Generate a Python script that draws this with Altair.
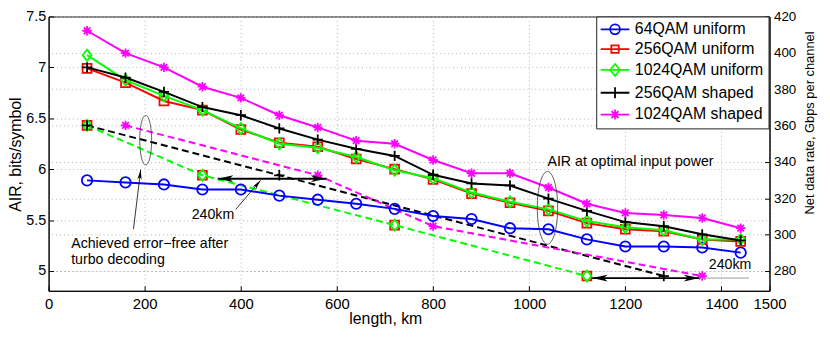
import altair as alt
import pandas as pd

# ---------------- data ----------------
length_km = [80, 160, 240, 320, 400, 480, 560, 640, 720, 800, 880, 960, 1040, 1120, 1200, 1280, 1360, 1440]
air_64qam_uniform = [5.89, 5.87, 5.85, 5.80, 5.80, 5.74, 5.70, 5.66, 5.61, 5.54, 5.51, 5.42, 5.41, 5.31, 5.24, 5.24, 5.23, 5.18]
air_256qam_uniform = [6.99, 6.85, 6.67, 6.58, 6.39, 6.26, 6.22, 6.10, 6.00, 5.90, 5.76, 5.67, 5.59, 5.47, 5.41, 5.39, 5.31, 5.29]
air_1024qam_uniform = [7.12, 6.875, 6.72, 6.58, 6.40, 6.25, 6.21, 6.12, 5.99, 5.91, 5.77, 5.68, 5.605, 5.49, 5.43, 5.40, 5.31, 5.31]
air_256qam_shaped = [7.00, 6.90, 6.76, 6.61, 6.53, 6.40, 6.29, 6.20, 6.13, 5.945, 5.86, 5.84, 5.71, 5.59, 5.48, 5.44, 5.36, 5.30]
air_1024qam_shaped = [7.36, 7.14, 7.00, 6.81, 6.70, 6.53, 6.41, 6.28, 6.25, 6.09, 5.96, 5.96, 5.82, 5.66, 5.57, 5.55, 5.52, 5.42]

# error-free after turbo decoding (dashed)
ef_uniform_km = [80, 320, 720, 1120]
ef_uniform_air = [6.43, 5.94, 5.45, 4.95]
ef_256s_km = [80, 480, 1280]
ef_256s_air = [6.43, 5.94, 4.95]
ef_1024s_km = [160, 560, 800, 1360]
ef_1024s_air = [6.43, 5.94, 5.44, 4.95]

series_names = ["64QAM uniform", "256QAM uniform", "1024QAM uniform", "256QAM shaped", "1024QAM shaped"]
series_colors = ["#0000ff", "#ff0000", "#00ff00", "#000000", "#ff00ff"]
series_values = [air_64qam_uniform, air_256qam_uniform, air_1024qam_uniform, air_256qam_shaped, air_1024qam_shaped]

x_ticks = [0, 200, 400, 600, 800, 1000, 1200, 1400, 1500]
y_ticks = [5, 5.5, 6, 6.5, 7, 7.5]
rate_ticks = [280, 300, 320, 340, 360, 380, 400, 420]

# annotations
note_text_1 = ["Achieved error\u2212free after", "turbo decoding"]
note_text_1_km = [47, 47]
note_text_1_air = [5.26, 5.11]
note_text_2 = "AIR at optimal input power"
note_text_2_pos = (1038, 6.068)
dist_label = "240km"
dist_label_1_pos = (342, 5.547)
dist_label_2_pos = (1418, 5.054)
double_arrow_1 = (352, 578, 5.906)
double_arrow_2 = (1131, 1354, 4.93)
ellipse_1 = (202, 6.285)
ellipse_2 = (1038, 5.62)
pointer_1 = (176.6, 5.411, 191.6, 5.994)
pointer_2 = (389.4, 5.605, 441.0, 5.89)
gray_line = (1354, 1457, 4.93)

FONT = "Liberation Sans"

# ---------------- shapes ----------------
SH_CIRCLE = "circle"
SH_SQUARE = "square"
SH_DIAMOND = "M0,-1.25L1,0L0,1.25L-1,0Z"
SH_PLUS = "M-1.1,0L1.1,0M0,-1.1L0,1.1"
SH_STAR = "M-1,0L1,0M0,-1L0,1M-0.7,-0.7L0.7,0.7M-0.7,0.7L0.7,-0.7"
series_shapes = [SH_CIRCLE, SH_SQUARE, SH_DIAMOND, SH_PLUS, SH_STAR]
series_sizes = [110, 80, 80, 90, 90]

LEG_CIRCLE = "M-2.9,0L2.9,0M-1,0A1,1,0,1,0,1,0A1,1,0,1,0,-1,0"
LEG_SQUARE = "M-2.9,0L2.9,0M-0.75,-0.75L0.75,-0.75L0.75,0.75L-0.75,0.75Z"
LEG_DIAMOND = "M-2.9,0L2.9,0M0,-1.2L1,0L0,1.2L-1,0Z"
LEG_PLUS = "M-2.9,0L2.9,0M0,-1.1L0,1.1"
LEG_STAR = "M-2.9,0L2.9,0M0,-1L0,1M-0.7,-0.7L0.7,0.7M-0.7,0.7L0.7,-0.7"
legend_shapes = [LEG_CIRCLE, LEG_SQUARE, LEG_DIAMOND, LEG_PLUS, LEG_STAR]

ARROW = "M0,0L0.35,1.6L0,1.2L-0.35,1.6Z"
ELL_1 = "M0,-1A0.24,1,0,1,1,0,1A0.24,1,0,1,1,0,-1"
ELL_2 = "M0,-1A0.28,1,0,1,1,0,1A0.28,1,0,1,1,0,-1"

# ---------------- scales / axes ----------------
W, H = 728, 277
xscale = alt.Scale(domain=[0, 1500], nice=False, zero=False)
yscale = alt.Scale(domain=[4.805, 7.5], nice=False, zero=False)
rscale = alt.Scale(domain=[280 + (4.805 - 5) * 56, 420], nice=False, zero=False)

INWARD = alt.ExprRef(expr="-5")

GRID = dict(grid=True, gridDash=[1, 3], gridColor="#b4b4b4", gridWidth=1,
            domainColor="black", tickColor="black", labelColor="black", titleColor="black",
            labelFont=FONT, titleFont=FONT, titleFontWeight="normal", labelOverlap=False,
            labelFlush=False, tickSize=INWARD)

xaxis = alt.Axis(values=x_ticks, format="d", title="length, km", labelFontSize=15,
                 titleFontSize=16, titleX=340, titleY=28, titleAlign="center",
                 titleBaseline="middle", labelPadding=11, **GRID)
yaxis = alt.Axis(values=y_ticks, format="~g", title="AIR, bits/symbol", labelFontSize=14.5,
                 titleFontSize=16, titleAngle=270, titleX=-33, titleY=139, titleAlign="center",
                 titleBaseline="middle", labelPadding=8, **GRID)
raxis = alt.Axis(values=rate_ticks, format="d", orient="right", title="Net data rate, Gbps per channel",
                 labelFontSize=13.5, titleFontSize=13, titleAngle=270, titleX=40, titleY=107,
                 titleAlign="center", titleBaseline="middle", labelPadding=9, **GRID)


def X(f="x"):
    return alt.X(f"{f}:Q", scale=xscale, axis=xaxis)


def Y(f="y"):
    return alt.Y(f"{f}:Q", scale=yscale, axis=yaxis)


layers = []

# dashed error-free lines
dashed = [
    (ef_uniform_km, ef_uniform_air, "#00ff00", SH_DIAMOND, 80),
    (ef_256s_km, ef_256s_air, "#000000", SH_PLUS, 90),
    (ef_1024s_km, ef_1024s_air, "#ff00ff", SH_STAR, 90),
]
red_df = pd.DataFrame({"x": ef_uniform_km, "y": ef_uniform_air})
layers.append(alt.Chart(red_df).mark_point(shape=SH_SQUARE, size=80, filled=False, color="#ff0000",
                                           strokeWidth=1.8, opacity=1).encode(x=X(), y=Y()))
for km, air, col, sh, sz in dashed:
    d = pd.DataFrame({"x": km, "y": air})
    layers.append(alt.Chart(d).mark_line(color=col, strokeWidth=2, strokeDash=[7, 4]).encode(x=X(), y=Y()))
for km, air, col, sh, sz in dashed:
    d = pd.DataFrame({"x": km, "y": air})
    layers.append(alt.Chart(d).mark_point(shape=sh, size=sz, filled=False, color=col,
                                          strokeWidth=1.8, opacity=1).encode(x=X(), y=Y()))

# solid series
for name, vals, col, sh, sz in zip(series_names, series_values, series_colors, series_shapes, series_sizes):
    d = pd.DataFrame({"x": length_km, "y": vals})
    layers.append(alt.Chart(d).mark_line(color=col, strokeWidth=2).encode(x=X(), y=Y()))
    layers.append(alt.Chart(d).mark_point(shape=sh, size=sz, filled=False, color=col,
                                          strokeWidth=1.8, opacity=1).encode(x=X(), y=Y()))

# legend layer (no marks drawn; domain fixed)
leg_df = pd.DataFrame({"series": series_names, "x": [0] * 5, "y": [5] * 5})
layers.append(
    alt.Chart(leg_df).mark_point(filled=False, strokeWidth=1.8, opacity=1).encode(
        x=X(), y=Y(),
        color=alt.Color("series:N", scale=alt.Scale(domain=series_names, range=series_colors),
                        legend=alt.Legend(title=None, orient="none", legendX=553, legendY=0,
                                          labelFont=FONT, labelFontSize=16, labelColor="black",
                                          labelExpr="datum.label + ' '",
                                          symbolSize=100, symbolStrokeWidth=1.8,
                                          strokeColor="#222", fillColor="white", padding=5,
                                          rowPadding=3, symbolOffset=6, labelOffset=12)),
        shape=alt.Shape("series:N", scale=alt.Scale(domain=series_names, range=legend_shapes)),
    ).transform_filter("false")
)

# ellipses
for (ex, ey), path, sz in [(ellipse_1, ELL_1, 2500), (ellipse_2, ELL_2, 5390)]:
    d = pd.DataFrame({"x": [ex], "y": [ey]})
    layers.append(alt.Chart(d).mark_point(shape=path, size=sz, filled=False, color="#333",
                                          strokeWidth=0.8, opacity=1).encode(x=X(), y=Y()))

# pointers (thin arrows)
for (x1, y1, x2, y2), ang in [(pointer_1, 7), (pointer_2, 40)]:
    d = pd.DataFrame({"x": [x1], "y": [y1], "x2": [x2], "y2": [y2]})
    layers.append(alt.Chart(d).mark_rule(color="black", strokeWidth=0.8).encode(
        x=X(), y=Y(), x2="x2:Q", y2="y2:Q"))
    h = pd.DataFrame({"x": [x2], "y": [y2]})
    layers.append(alt.Chart(h).mark_point(shape=ARROW, size=150, filled=True, color="black",
                                          angle=ang, opacity=1).encode(x=X(), y=Y()))

# double arrows
for (x1, x2, yy) in [double_arrow_1, double_arrow_2]:
    d = pd.DataFrame({"x": [x1], "x2": [x2], "y": [yy]})
    layers.append(alt.Chart(d).mark_rule(color="black", strokeWidth=1.8).encode(x=X(), x2="x2:Q", y=Y()))
    for hx, ang in [(x1, 270), (x2, 90)]:
        h = pd.DataFrame({"x": [hx], "y": [yy]})
        layers.append(alt.Chart(h).mark_point(shape=ARROW, size=380, filled=True, color="black",
                                              angle=ang, opacity=1).encode(x=X(), y=Y()))

# gray pointer line at second label
g = pd.DataFrame({"x": [gray_line[0]], "x2": [gray_line[1]], "y": [gray_line[2]]})
layers.append(alt.Chart(g).mark_rule(color="#9a9a9a", strokeWidth=1).encode(x=X(), x2="x2:Q", y=Y()))

# texts
t1 = pd.DataFrame({"x": note_text_1_km, "y": note_text_1_air, "t": note_text_1})
t2 = pd.DataFrame({"x": [note_text_2_pos[0], dist_label_1_pos[0], dist_label_2_pos[0]],
                   "y": [note_text_2_pos[1], dist_label_1_pos[1], dist_label_2_pos[1]],
                   "t": [note_text_2, dist_label, dist_label]})
layers.append(alt.Chart(t1).mark_text(align="left", baseline="middle", font=FONT, fontSize=14.3,
                                      color="black").encode(x=X(), y=Y(), text="t:N"))
layers.append(alt.Chart(t2.iloc[[0]]).mark_text(align="left", baseline="middle", font=FONT, fontSize=14.3,
                                                color="black").encode(x=X(), y=Y(), text="t:N"))
layers.append(alt.Chart(t2.iloc[[1, 2]]).mark_text(align="center", baseline="middle", font=FONT, fontSize=14.3,
                                                   color="black").encode(x=X(), y=Y(), text="t:N"))

left = alt.layer(*layers)

rate_df = pd.DataFrame({"r": rate_ticks})
right = alt.Chart(rate_df).mark_point(opacity=0).encode(
    y=alt.Y("r:Q", scale=rscale, axis=raxis))

chart = alt.layer(left, right).resolve_scale(y="independent").properties(
    width=W, height=H,
    padding={"left": 41, "top": 7, "right": 53, "bottom": 37},
    autosize=alt.AutoSizeParams(type="none"),
    background="white",
).configure_view(stroke="black", strokeWidth=1)

chart.save("out.html", embed_options={"renderer": "svg", "actions": False})
